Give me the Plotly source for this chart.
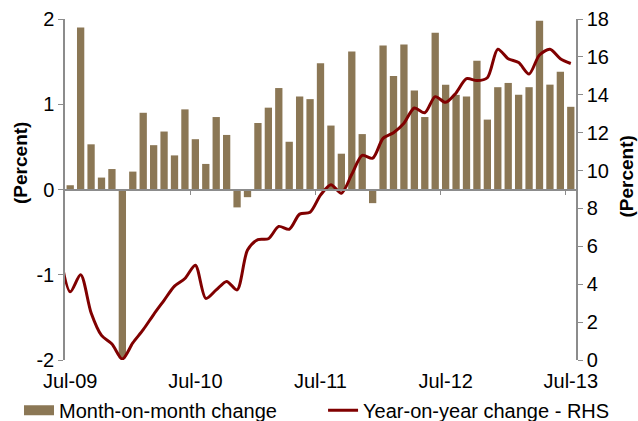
import plotly.graph_objects as go

months = ["Jul-09","Aug-09","Sep-09","Oct-09","Nov-09","Dec-09","Jan-10","Feb-10","Mar-10","Apr-10","May-10","Jun-10",
          "Jul-10","Aug-10","Sep-10","Oct-10","Nov-10","Dec-10","Jan-11","Feb-11","Mar-11","Apr-11","May-11","Jun-11",
          "Jul-11","Aug-11","Sep-11","Oct-11","Nov-11","Dec-11","Jan-12","Feb-12","Mar-12","Apr-12","May-12","Jun-12",
          "Jul-12","Aug-12","Sep-12","Oct-12","Nov-12","Dec-12","Jan-13","Feb-13","Mar-13","Apr-13","May-13","Jun-13",
          "Jul-13"]

mom = [0.05, 1.90, 0.53, 0.14, 0.24, -1.98, 0.21, 0.90, 0.52, 0.68, 0.40, 0.94,
       0.59, 0.30, 0.85, 0.64, -0.21, -0.09, 0.78, 0.96, 1.19, 0.56, 1.09, 1.06,
       1.48, 0.75, 0.42, 1.62, 0.65, -0.16, 1.69, 1.33, 1.70, 1.16, 0.85, 1.84,
       1.23, 1.11, 1.09, 1.51, 0.82, 1.20, 1.25, 1.11, 1.20, 1.98, 1.23, 1.38,
       0.97]

# Year-on-year series (RHS); first value is Jun-09, partly outside the plot
yoy_months = ["Jun-09"] + months
yoy = [5.7, 3.6, 4.5, 2.5, 1.3, 0.85, 0.05, 0.9, 1.6, 2.4, 3.15, 3.9, 4.3,
       5.0, 3.25, 3.7, 4.15, 3.7, 5.8, 6.35, 6.4, 7.05, 6.9, 7.7, 7.8,
       8.7, 9.25, 8.8, 9.8, 10.8, 10.65, 11.7, 12.0, 12.5, 13.3, 13.05, 13.9,
       13.6, 14.1, 14.85, 14.75, 14.9, 16.4, 15.9, 15.7, 15.1, 16.1, 16.4, 15.9,
       15.65]

tick_labels = ["Jul-09", "Jul-10", "Jul-11", "Jul-12", "Jul-13"]
left_ticks = [-2, -1, 0, 1, 2]
left_tick_text = ["-2", "-1", "0", "1", "2"]
right_ticks = [0, 2, 4, 6, 8, 10, 12, 14, 16, 18]

x_bar = list(range(len(months)))
x_line = list(range(-1, len(months)))
label_pos = [months.index(t) for t in tick_labels]
boundary_pos = [p - 0.5 for p in label_pos[1:]]

FONT = "Liberation Sans, Arial, sans-serif"
FS = 20
BAR = "#8B7755"
LINE = "#800000"
AX = "#8c8c8c"

fig = go.Figure()
fig.add_trace(go.Bar(x=x_bar, y=mom, name="Month-on-month change",
                     marker=dict(color=BAR, line=dict(width=0)), width=0.7,
                     showlegend=False, xaxis="x", yaxis="y"))
fig.add_trace(go.Scatter(x=x_line, y=yoy, name="Year-on-year change - RHS",
                         mode="lines", line=dict(color=LINE, width=3, shape="spline", smoothing=0.8),
                         showlegend=False, xaxis="x", yaxis="y2"))
# legend proxies
fig.add_trace(go.Scatter(x=[None], y=[None], name="Month-on-month change", mode="lines",
                         line=dict(color=BAR, width=13), xaxis="x", yaxis="y", legend="legend"))
fig.add_trace(go.Scatter(x=[None], y=[None], name="Year-on-year change - RHS", mode="lines",
                         line=dict(color=LINE, width=3), xaxis="x", yaxis="y2", legend="legend2"))
# invisible trace to carry the label axis
fig.add_trace(go.Scatter(x=[0], y=[0], mode="markers", marker=dict(opacity=0),
                         showlegend=False, hoverinfo="skip", xaxis="x2", yaxis="y"))

xr = [-0.5, len(months) - 0.5]
leg_common = dict(orientation="h", xanchor="left", y=-0.09, yanchor="top",
                  font=dict(size=FS), itemwidth=30, bgcolor="rgba(0,0,0,0)")
fig.update_layout(
    width=638, height=421,
    margin=dict(l=65, r=62, t=19, b=61, autoexpand=False),
    paper_bgcolor="white", plot_bgcolor="white",
    font=dict(family=FONT, size=FS, color="black"),
    showlegend=True,
    legend=dict(x=-0.09, **leg_common),
    legend2=dict(x=0.505, **leg_common),
    xaxis=dict(range=xr, anchor="free", position=0.5, showline=True, linecolor=AX, linewidth=1.5,
               ticks="outside", ticklen=5, tickcolor=AX, tickvals=boundary_pos, showticklabels=False,
               showgrid=False, zeroline=False, automargin=False),
    xaxis2=dict(range=xr, overlaying="x", side="bottom", anchor="y", showline=False,
                tickvals=label_pos, ticktext=tick_labels, ticks="", showgrid=False, zeroline=False,
                tickfont=dict(size=FS), ticklabelstandoff=7, automargin=False),
    yaxis=dict(range=[-2, 2], tickvals=left_ticks, ticktext=left_tick_text, showline=True,
               linecolor=AX, linewidth=1.5,
               ticks="outside", ticklen=5, tickcolor=AX, showgrid=False, zeroline=False,
               tickfont=dict(size=FS), automargin=False),
    yaxis2=dict(range=[0, 18], tickvals=right_ticks, overlaying="y", side="right", showline=True,
                linecolor=AX, linewidth=1.5, ticks="outside", ticklen=5, tickcolor=AX,
                showgrid=False, zeroline=False, tickfont=dict(size=FS), automargin=False),
    annotations=[
        dict(text="<b>(Percent)</b>", xref="paper", yref="paper", x=-0.086, y=0.578,
             textangle=-90, showarrow=False, font=dict(size=19), xanchor="center", yanchor="middle"),
        dict(text="<b>(Percent)</b>", xref="paper", yref="paper", x=1.099, y=0.537,
             textangle=-90, showarrow=False, font=dict(size=19), xanchor="center", yanchor="middle"),
    ],
)

fig.write_html("out.html", config={"displayModeBar": False},
               post_script="document.body.style.margin='0';document.body.style.overflow='hidden';")
